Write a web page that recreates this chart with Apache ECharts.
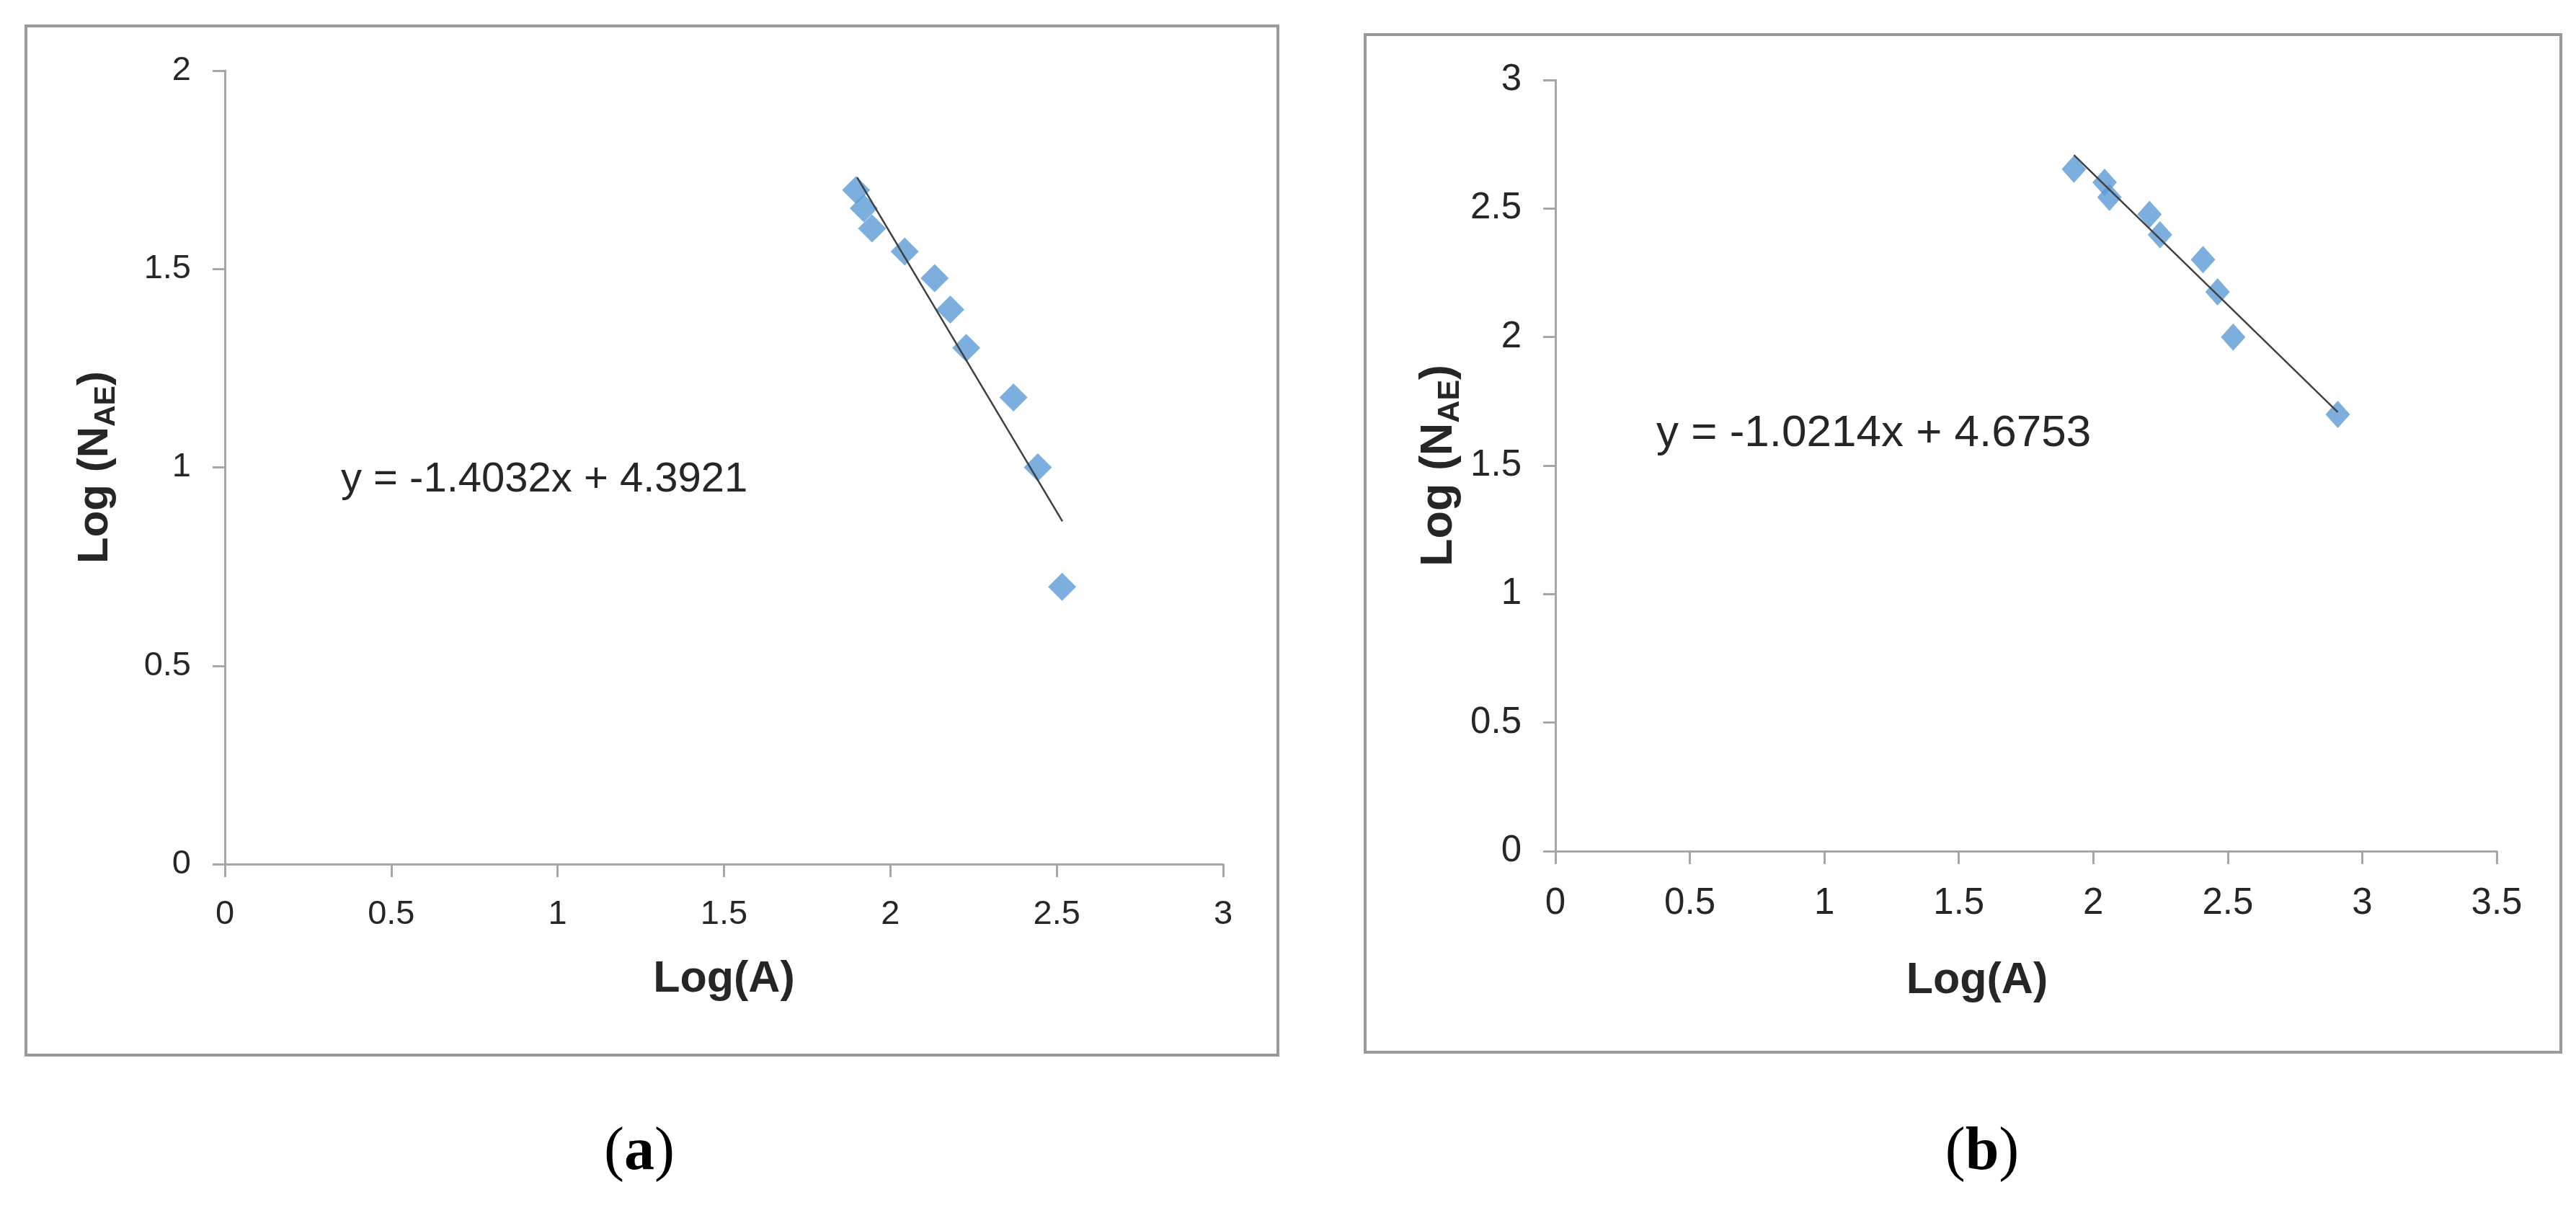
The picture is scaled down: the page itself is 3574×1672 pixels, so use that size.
<!DOCTYPE html>
<html>
<head>
<meta charset="utf-8">
<script src="https://cdn.jsdelivr.net/npm/echarts@6/dist/echarts.min.js"></script>
<style>
  html, body { margin: 0; padding: 0; background: #fff; }
  #chart { width: 3574px; height: 1672px; }
</style>
</head>
<body>
<div id="chart"></div>
<script>
// panel (a)
const logA_a = [1.897, 1.920, 1.945, 2.043, 2.133, 2.180, 2.228, 2.370, 2.443, 2.516];
const logN_a = [1.699, 1.653, 1.602, 1.544, 1.477, 1.398, 1.301, 1.176, 1.000, 0.699];
const trendX_a = [1.900, 2.517];
const trendY_a = [1.731, 0.864];
const equation_a = 'y = -1.4032x + 4.3921';
const xRange_a = [0, 3];
const yRange_a = [0, 2];

// panel (b)
const logA_b = [1.928, 2.042, 2.060, 2.209, 2.248, 2.408, 2.462, 2.520, 2.909];
const logN_b = [2.653, 2.602, 2.544, 2.477, 2.398, 2.301, 2.176, 2.000, 1.699];
const trendX_b = [1.928, 2.909];
const trendY_b = [2.708, 1.708];
const equation_b = 'y = -1.0214x + 4.6753';
const xRange_b = [0, 3.5];
const yRange_b = [0, 3];

const tickStep = 0.5;
const panelLabels = ['a', 'b'];

const FONT = '"Liberation Sans", Arial, sans-serif';
const SERIF = '"Liberation Serif", "DejaVu Serif", serif';
const AXIS_GRAY = '#a6a6a6';
const TEXT = '#262626';
const DOT = '#5b9bd5';

const zip = (xs, ys) => xs.map((x, i) => [x, ys[i]]);

function xAxisFor(idx, range, fontSize, nameGap, namePad) {
    return {
        type: 'value', gridIndex: idx, min: range[0], max: range[1], interval: tickStep,
        name: 'Log(A)', nameLocation: 'middle', nameGap: nameGap,
        nameTextStyle: {fontSize: 61, fontWeight: 'bold', fontFamily: FONT, color: TEXT, padding: namePad},
        axisLine: {lineStyle: {color: AXIS_GRAY, width: 3}},
        axisTick: {show: true, length: 18, lineStyle: {color: AXIS_GRAY, width: 3}},
        axisLabel: {fontSize: fontSize, fontFamily: FONT, color: TEXT, margin: 47},
        splitLine: {show: false}
    };
}

function yAxisFor(idx, range, fontSize, nameGap, titleSize) {
    return {
        type: 'value', gridIndex: idx, min: range[0], max: range[1], interval: tickStep,
        name: 'Log (N{sub|AE})', nameLocation: 'middle', nameGap: nameGap, nameRotate: 90,
        nameTextStyle: {
            fontSize: titleSize, fontWeight: 'bold', fontFamily: FONT, color: TEXT,
            rich: {sub: {fontSize: Math.round(titleSize * 0.68), fontWeight: 'bold', fontFamily: FONT,
                         color: TEXT, verticalAlign: 'bottom', padding: [0, 0, -6, 0]}}
        },
        axisLine: {show: true, lineStyle: {color: AXIS_GRAY, width: 3}},
        axisTick: {show: true, length: 17, lineStyle: {color: AXIS_GRAY, width: 3}},
        axisLabel: {fontSize: fontSize, fontFamily: FONT, color: TEXT, margin: 47},
        splitLine: {show: false}
    };
}

const chart = echarts.init(document.getElementById('chart'));
chart.setOption({
    backgroundColor: '#fff',
    animation: false,
    grid: [
        {left: 312, right: 3574 - 1697, top: 98, bottom: 1672 - 1199, outerBoundsMode: 'none'},
        {left: 2158, right: 3574 - 3464, top: 111, bottom: 1672 - 1181, outerBoundsMode: 'none'}
    ],
    xAxis: [
        xAxisFor(0, xRange_a, 47, 130, [0, 0, 0, 0]),
        xAxisFor(1, xRange_b, 51, 150, [0, 136, 0, 0])
    ],
    yAxis: [
        yAxisFor(0, yRange_a, 47, 150, 60),
        yAxisFor(1, yRange_b, 51, 130, 63)
    ],
    series: [
        {type: 'scatter', xAxisIndex: 0, yAxisIndex: 0, data: zip(logA_a, logN_a),
         symbol: 'diamond', symbolSize: 39, itemStyle: {color: DOT}, z: 2},
        {type: 'line', xAxisIndex: 0, yAxisIndex: 0, data: zip(trendX_a, trendY_a),
         symbol: 'none', lineStyle: {color: '#404040', width: 2.5}, z: 3},
        {type: 'scatter', xAxisIndex: 1, yAxisIndex: 1, data: zip(logA_b, logN_b),
         symbol: 'diamond', symbolSize: [34, 38], itemStyle: {color: DOT}, z: 2},
        {type: 'line', xAxisIndex: 1, yAxisIndex: 1, data: zip(trendX_b, trendY_b),
         symbol: 'none', lineStyle: {color: '#404040', width: 2.5}, z: 3}
    ],
    graphic: [
        {type: 'rect', shape: {x: 36, y: 36, width: 1737, height: 1428},
         style: {fill: 'none', stroke: '#9a9a9a', lineWidth: 4}, silent: true},
        {type: 'rect', shape: {x: 1894, y: 48, width: 1659, height: 1412},
         style: {fill: 'none', stroke: '#9a9a9a', lineWidth: 4}, silent: true},
        {type: 'text', x: 473, y: 666,
         style: {text: equation_a, fontSize: 58, fontFamily: FONT, fill: TEXT,
                 align: 'left', verticalAlign: 'middle', textAlign: 'left', textVerticalAlign: 'middle'}},
        {type: 'text', x: 2298, y: 602,
         style: {text: equation_b, fontSize: 62, fontFamily: FONT, fill: TEXT,
                 align: 'left', verticalAlign: 'middle', textAlign: 'left', textVerticalAlign: 'middle'}},
        {type: 'text', x: 887, y: 1600,
         style: {text: '({b|' + panelLabels[0] + '})', fontSize: 84, fontFamily: SERIF, fill: '#000',
                 align: 'center', verticalAlign: 'middle', textAlign: 'center', textVerticalAlign: 'middle',
                 rich: {b: {fontSize: 84, fontFamily: SERIF, fontWeight: 'bold', fill: '#000'}}}},
        {type: 'text', x: 2750, y: 1600,
         style: {text: '({b|' + panelLabels[1] + '})', fontSize: 84, fontFamily: SERIF, fill: '#000',
                 align: 'center', verticalAlign: 'middle', textAlign: 'center', textVerticalAlign: 'middle',
                 rich: {b: {fontSize: 84, fontFamily: SERIF, fontWeight: 'bold', fill: '#000'}}}}
    ]
});
</script>
</body>
</html>
